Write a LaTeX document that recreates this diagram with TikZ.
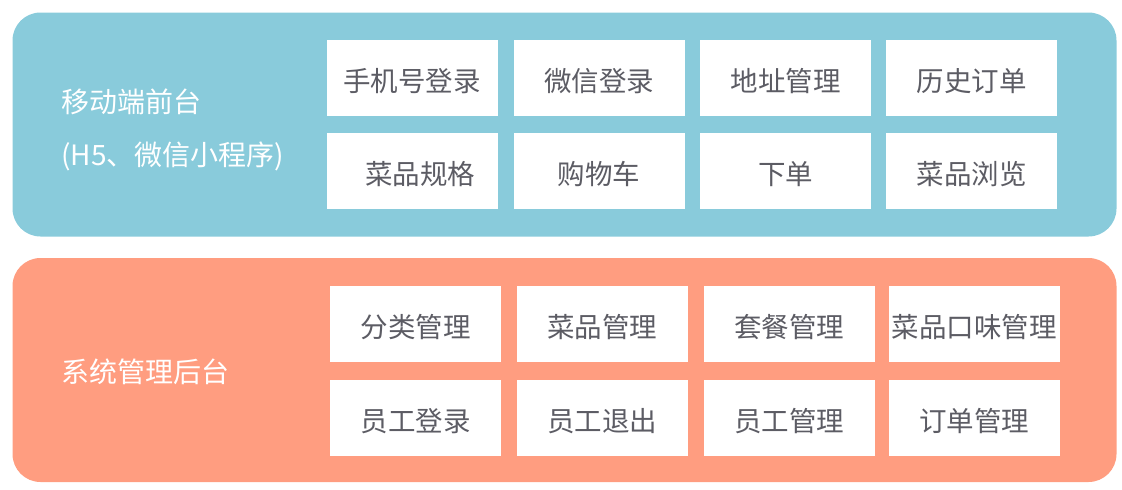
\documentclass[tikz,border=0pt]{standalone}
\usepackage{fontspec}
\newfontfamily\cjk{Noto Sans CJK SC}
\usetikzlibrary{positioning}
\definecolor{fg}{RGB}{137,203,219}
\definecolor{bg}{RGB}{255,157,128}
\definecolor{tx}{RGB}{92,92,100}

\begin{document}
\begin{tikzpicture}[x=1pt, y=-1pt,
    panel/.style={rectangle, rounded corners=28pt, minimum width=1104pt, minimum height=224pt, fill=#1, inner sep=0pt},
    fn/.style={rectangle, fill=white, minimum width=171pt, minimum height=76pt, inner sep=0pt, text height=30pt, text depth=3pt, font=\cjk\fontsize{27.5}{30}\selectfont, text=tx},
    lbl/.style={anchor=west, align=left, text=white, font=\cjk\fontsize{28}{53}\selectfont, inner sep=0pt},
]
\useasboundingbox (0,0) rectangle (1122,490);

% === TOP PANEL: mobile front end ===
\node[panel=fg] (front) at (564.5,124.5) {};
\node[lbl] (frontlbl) at (61,130) {移动端前台\\(H5、微信小程序)};

\node[fn] (f1) at (412,77.5) {手机号登录};
\node[fn] (f2) at (599,77.5) {微信登录};
\node[fn] (f3) at (785.5,77.5) {地址管理};
\node[fn] (f4) at (971.5,77.5) {历史订单};
\node[fn] (f5) at (412,171) {\hspace{16pt}菜品规格};
\node[fn] (f6) at (599,171) {购物车};
\node[fn] (f7) at (785.5,171) {下单};
\node[fn] (f8) at (971.5,171) {菜品浏览};

% === BOTTOM PANEL: admin back end ===
\node[panel=bg] (back) at (564.5,370) {};
\node[lbl] (backlbl) at (61,372) {系统管理后台};

\node[fn] (b1) at (415.5,324) {分类管理};
\node[fn] (b2) at (602,324) {菜品管理};
\node[fn] (b3) at (789,324) {套餐管理};
\node[fn] (b4) at (974,324) {菜品口味管理};
\node[fn] (b5) at (415.5,417.5) {员工登录};
\node[fn] (b6) at (602,417.5) {员工退出};
\node[fn] (b7) at (789,417.5) {员工管理};
\node[fn] (b8) at (974,417.5) {订单管理};

\end{tikzpicture}
\end{document}
